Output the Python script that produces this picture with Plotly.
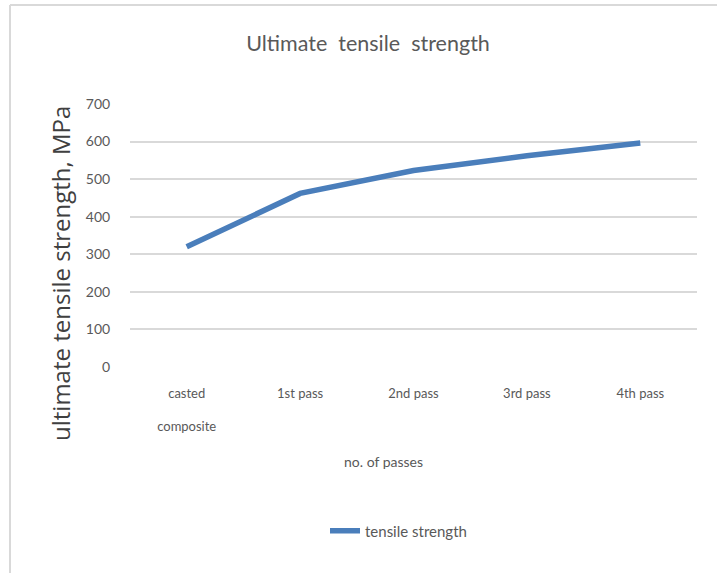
import plotly.graph_objects as go

categories = ["casted composite", "1st pass", "2nd pass", "3rd pass", "4th pass"]
tick_labels = ["casted<br><br>composite", "1st pass", "2nd pass", "3rd pass", "4th pass"]
tensile_strength = [320, 462, 523, 562, 596]
y_ticks = [0, 100, 200, 300, 400, 500, 600, 700]

W, H = 717, 573
L, R, T, B = 130, 20, 104, 206
PW, PH = W - L - R, H - T - B


def px(x):
    return (x - L) / PW


def py(y):
    return (H - B - y) / PH


fig = go.Figure()
fig.add_trace(go.Scatter(
    x=categories, y=tensile_strength, mode="lines", name="tensile strength",
    line=dict(color="#4A7EBB", width=5.5),
))

fig.update_layout(
    width=W, height=H,
    margin=dict(l=L, r=R, t=T, b=B),
    paper_bgcolor="white", plot_bgcolor="white",
    font=dict(family="Lato", color="#595959", size=13),
    title=dict(text="Ultimate  tensile  strength", x=368 / W, xanchor="center",
               y=1 - 43 / H, yanchor="middle",
               font=dict(family="Lato", size=21.5, color="#595959")),
    showlegend=True,
    legend=dict(orientation="h", x=px(325), xanchor="left", y=py(531), yanchor="middle",
                font=dict(family="Lato", size=15, color="#595959")),
    xaxis=dict(
        tickmode="array", tickvals=categories, ticktext=tick_labels,
        range=[-0.5, len(categories) - 0.5],
        ticks="outside", ticklen=14, tickcolor="rgba(0,0,0,0)",
        showgrid=False, showline=False, zeroline=False,
        tickfont=dict(family="Lato", size=13, color="#595959"),
    ),
    yaxis=dict(
        range=[0, 700], tickvals=y_ticks,
        ticks="outside", ticklen=16, tickcolor="rgba(0,0,0,0)",
        showgrid=True, gridcolor="#d9d9d9", gridwidth=1.5, zeroline=False, showline=False,
        tickfont=dict(family="Lato", size=14, color="#595959"),
    ),
)

fig.add_annotation(text="ultimate tensile strength, MPa", xref="paper", yref="paper",
                   x=px(60), y=py(274), textangle=-90, showarrow=False,
                   xanchor="center", yanchor="middle",
                   font=dict(family="Open Sans", size=24, color="#404040"))
fig.add_annotation(text="no. of passes", xref="paper", yref="paper",
                   x=px(383), y=py(462), showarrow=False,
                   xanchor="center", yanchor="middle",
                   font=dict(family="Lato", size=14, color="#595959"))

fig.add_shape(type="line", xref="paper", yref="paper",
              x0=px(10), x1=px(717), y0=py(5), y1=py(5),
              line=dict(color="#d9d9d9", width=2))
fig.add_shape(type="line", xref="paper", yref="paper",
              x0=px(10), x1=px(10), y0=py(5), y1=py(573),
              line=dict(color="#d9d9d9", width=2))

fig.write_html("out.html", config={"displayModeBar": False},
               post_script="document.body.style.margin='0';")
